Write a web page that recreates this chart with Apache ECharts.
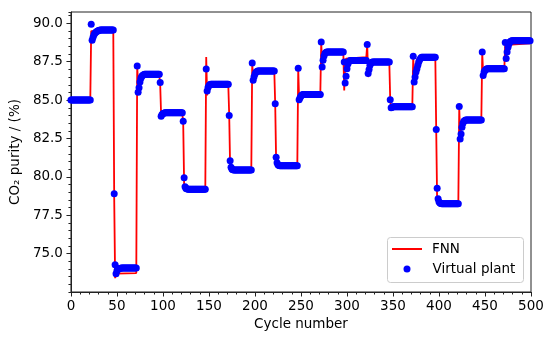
<!DOCTYPE html>
<html>
<head>
<meta charset="utf-8">
<script src="https://cdn.jsdelivr.net/npm/echarts@6/dist/echarts.min.js"></script>
<style>
html,body{margin:0;padding:0;background:#fff;}
#chart{width:550px;height:344px;}
</style>
</head>
<body>
<div id="chart"></div>
<script>
// ---- data ----
const xTicks = [0, 50, 100, 150, 200, 250, 300, 350, 400, 450, 500];
const yTicks = [75.0, 77.5, 80.0, 82.5, 85.0, 87.5, 90.0];

// Virtual plant: one value per cycle (cycle = index 0..499)
const plantValues = [
  // 0-21
  85.0,85.0,85.0,85.0,85.0,85.0,85.0,85.0,85.0,85.0,85.0,85.0,85.0,85.0,85.0,85.0,85.0,85.0,85.0,85.0,85.0,85.0,
  // 22-46
  89.95,88.9,89.1,89.25,89.35,89.42,89.47,89.5,89.53,89.55,89.57,89.57,89.57,89.57,89.57,89.57,89.57,89.57,89.57,89.57,89.57,89.57,89.57,89.57,89.57,
  // 47-71
  78.9,74.28,73.69,73.88,73.97,74.01,74.03,74.05,74.06,74.06,74.06,74.06,74.06,74.06,74.06,74.06,74.06,74.06,74.06,74.06,74.06,74.06,74.06,74.06,74.06,
  // 72-96
  87.22,85.52,85.8,86.18,86.42,86.55,86.62,86.66,86.68,86.68,86.68,86.68,86.68,86.68,86.68,86.68,86.68,86.68,86.68,86.68,86.68,86.68,86.68,86.68,86.68,
  // 97-121
  86.14,83.95,84.06,84.12,84.15,84.17,84.17,84.17,84.17,84.17,84.17,84.17,84.17,84.17,84.17,84.17,84.17,84.17,84.17,84.17,84.17,84.17,84.17,84.17,84.17,
  // 122-146
  83.62,79.95,79.35,79.25,79.22,79.2,79.2,79.2,79.2,79.2,79.2,79.2,79.2,79.2,79.2,79.2,79.2,79.2,79.2,79.2,79.2,79.2,79.2,79.2,79.2,
  // 147-171
  87.03,85.59,85.82,85.95,86.01,86.04,86.04,86.04,86.04,86.04,86.04,86.04,86.04,86.04,86.04,86.04,86.04,86.04,86.04,86.04,86.04,86.04,86.04,86.04,86.04,
  // 172-196
  84.0,81.05,80.62,80.5,80.47,80.45,80.45,80.45,80.45,80.45,80.45,80.45,80.45,80.45,80.45,80.45,80.45,80.45,80.45,80.45,80.45,80.45,80.45,80.45,80.45,
  // 197-221
  87.42,86.29,86.52,86.7,86.81,86.86,86.89,86.89,86.89,86.89,86.89,86.89,86.89,86.89,86.89,86.89,86.89,86.89,86.89,86.89,86.89,86.89,86.89,86.89,86.89,
  // 222-246
  84.76,81.27,80.92,80.79,80.74,80.72,80.72,80.72,80.72,80.72,80.72,80.72,80.72,80.72,80.72,80.72,80.72,80.72,80.72,80.72,80.72,80.72,80.72,80.72,80.72,
  // 247-271
  87.07,85.02,85.16,85.27,85.33,85.36,85.36,85.36,85.36,85.36,85.36,85.36,85.36,85.36,85.36,85.36,85.36,85.36,85.36,85.36,85.36,85.36,85.36,85.36,85.36,
  // 272-296
  88.78,87.16,87.6,87.88,88.03,88.1,88.14,88.14,88.14,88.14,88.14,88.14,88.14,88.14,88.14,88.14,88.14,88.14,88.14,88.14,88.14,88.14,88.14,88.14,88.14,
  // 297-321
  87.49,86.11,86.55,87.05,87.35,87.5,87.56,87.58,87.58,87.58,87.58,87.58,87.58,87.58,87.58,87.58,87.58,87.58,87.58,87.58,87.58,87.58,87.58,87.58,87.58,
  // 322-346
  88.62,86.73,86.99,87.27,87.4,87.46,87.49,87.49,87.49,87.49,87.49,87.49,87.49,87.49,87.49,87.49,87.49,87.49,87.49,87.49,87.49,87.49,87.49,87.49,87.49,
  // 347-371
  85.02,84.5,84.54,84.56,84.57,84.57,84.57,84.57,84.57,84.57,84.57,84.57,84.57,84.57,84.57,84.57,84.57,84.57,84.57,84.57,84.57,84.57,84.57,84.57,84.57,
  // 372-396
  87.86,86.18,86.5,86.83,87.05,87.27,87.48,87.63,87.73,87.8,87.8,87.8,87.8,87.8,87.8,87.8,87.8,87.8,87.8,87.8,87.8,87.8,87.8,87.8,87.8,
  // 397-421
  83.08,79.26,78.58,78.38,78.3,78.27,78.25,78.25,78.25,78.25,78.25,78.25,78.25,78.25,78.25,78.25,78.25,78.25,78.25,78.25,78.25,78.25,78.25,78.25,78.25,
  // 422-446
  84.58,82.47,82.8,83.23,83.5,83.62,83.67,83.7,83.7,83.7,83.7,83.7,83.7,83.7,83.7,83.7,83.7,83.7,83.7,83.7,83.7,83.7,83.7,83.7,83.7,
  // 447-471
  88.14,86.61,86.83,86.95,87.0,87.04,87.04,87.04,87.04,87.04,87.04,87.04,87.04,87.04,87.04,87.04,87.04,87.04,87.04,87.04,87.04,87.04,87.04,87.04,87.04,
  // 472-499
  88.76,87.71,88.14,88.45,88.66,88.78,88.84,88.87,88.87,88.87,88.87,88.87,88.87,88.87,88.87,88.87,88.87,88.87,88.87,88.87,88.87,88.87,88.87,88.87,88.87,88.87,88.87,88.87
];

// FNN prediction: line vertices [cycle, value]
const fnnPoints = [
  [0,85.0],[21,85.0],
  [22,89.5],[23,89.4],[25,89.5],[46,89.55],
  [47,78.6],[48,73.4],[49,73.7],[71,73.73],
  [72,87.2],[73,86.0],[74,86.5],[75,86.65],[96,86.65],
  [97,86.0],[98,84.0],[99,84.15],[121,84.17],
  [122,83.5],[123,79.5],[124,79.2],[146,79.2],
  [147,87.81],[148,85.3],[149,85.8],[150,85.95],[171,85.98],
  [172,84.0],[173,80.6],[174,80.45],[196,80.45],
  [197,87.4],[198,86.4],[199,86.7],[200,86.85],[221,86.88],
  [222,84.7],[223,81.0],[224,80.7],[246,80.7],
  [247,87.05],[248,85.0],[249,85.25],[250,85.35],[271,85.35],
  [272,88.75],[273,87.3],[274,87.8],[275,88.1],[296,88.15],
  [297,85.63],[298,87.2],[299,87.7],[300,87.8],[321,87.8],
  [322,88.62],[323,86.5],[324,87.2],[325,87.45],[346,87.5],
  [347,85.0],[348,84.5],[349,84.58],[371,84.6],
  [372,87.85],[373,86.2],[374,86.8],[375,87.3],[376,87.6],[377,87.75],[396,87.8],
  [397,83.0],[398,78.3],[399,78.2],[421,78.22],
  [422,84.55],[423,82.6],[424,83.2],[425,83.55],[426,83.65],[446,83.65],
  [447,88.1],[448,86.7],[449,86.95],[450,87.0],[471,87.02],
  [472,88.75],[473,87.8],[474,88.3],[475,88.6],[476,88.68],[499,88.7]
];

// ---- chart ----
const FONT = 'DejaVu Sans';
const chart = echarts.init(document.getElementById('chart'), null, {renderer: 'canvas'});
const plantData = plantValues.map((v, i) => [i, v]);

chart.setOption({
  animation: false,
  backgroundColor: '#ffffff',
  grid: {left: 70, right: 19, top: 12, bottom: 52, show: true, borderColor: '#222', borderWidth: 1, backgroundColor: 'transparent'},
  xAxis: {
    type: 'value', min: xTicks[0], max: xTicks[xTicks.length - 1], interval: 50,
    name: 'Cycle number', nameLocation: 'middle', nameGap: 25,
    nameTextStyle: {fontFamily: FONT, fontSize: 13.5, color: '#000'},
    axisLine: {show: true, onZero: false, lineStyle: {color: '#222', width: 1}},
    axisTick: {show: true, length: 4.5, lineStyle: {color: '#222'}},
    minorTick: {show: true, splitNumber: 5, length: 2.5, lineStyle: {color: '#222'}},
    splitLine: {show: false},
    axisLabel: {fontFamily: FONT, fontSize: 13.5, color: '#000', margin: 7}
  },
  yAxis: [{
    type: 'value', min: 72.5, max: 90.74, interval: 2.5,
    name: 'CO\u2082 purity / (%)', nameLocation: 'middle', nameGap: 42,
    nameTextStyle: {fontFamily: FONT, fontSize: 13.5, color: '#000'},
    axisLine: {show: true, onZero: false, lineStyle: {color: '#222', width: 1}},
    axisTick: {show: true, length: 4.5, lineStyle: {color: '#222'}},
    splitLine: {show: false},
    axisLabel: {fontFamily: FONT, fontSize: 13.5, color: '#000', margin: 8,
      showMinLabel: false, showMaxLabel: false,
      formatter: v => (yTicks.indexOf(Math.round(v * 10) / 10) >= 0 ? v.toFixed(1) : '')}
  }, {
    type: 'value', min: 72.5, max: 90.74, interval: 0.5, position: 'left', offset: 0,
    axisLine: {show: false},
    axisTick: {show: true, length: 2.5, lineStyle: {color: '#222'}},
    axisLabel: {show: false}, splitLine: {show: false}
  }],
  legend: [{
    data: [{name: 'FNN', icon: 'rect'}],
    left: 387, top: 236, itemWidth: 30, itemHeight: 2,
    textStyle: {fontFamily: FONT, fontSize: 13.5, color: '#000', padding: [0, 0, 0, 5], lineHeight: 16},
    selectedMode: false
  }, {
    data: [{name: 'Virtual plant', icon: 'circle'}],
    left: 398.5, top: 256, itemWidth: 7, itemHeight: 7,
    textStyle: {fontFamily: FONT, fontSize: 13.5, color: '#000', padding: [0, 0, 0, 17], lineHeight: 16},
    selectedMode: false
  }],
  graphic: [{
    type: 'rect', left: 387, top: 237, z: 0,
    shape: {width: 136, height: 45, r: 3},
    style: {fill: 'rgba(255,255,255,0.8)', stroke: '#cccccc', lineWidth: 1}
  }],
  series: [{
    name: 'FNN', type: 'line', data: fnnPoints, showSymbol: false, symbol: 'none',
    lineStyle: {color: '#ff0000', width: 1.8}, itemStyle: {color: '#ff0000'}, z: 2
  }, {
    name: 'Virtual plant', type: 'scatter', data: plantData, symbolSize: 7,
    itemStyle: {color: '#0000ff', opacity: 1}, z: 3
  }]
});
</script>
</body>
</html>
